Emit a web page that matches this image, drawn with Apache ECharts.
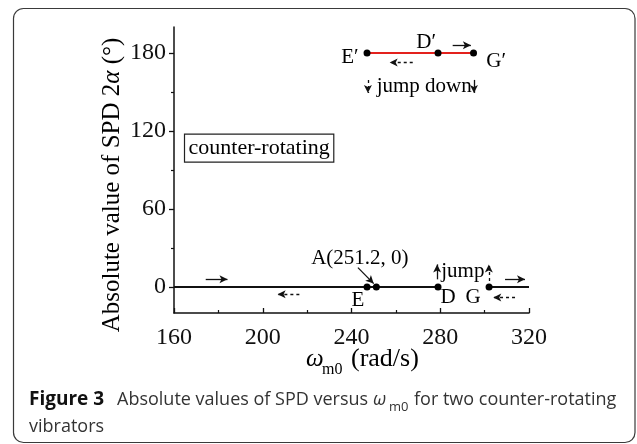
<!DOCTYPE html>
<html><head><meta charset="utf-8">
<script src="https://cdn.jsdelivr.net/npm/echarts@6/dist/echarts.min.js"></script>
<style>html,body{margin:0;padding:0;background:#fff;}#c{width:637px;height:444px;}</style>
</head><body><div id="c"></div>
<script>
// ---- data ----
const xTickLabels = [160, 200, 240, 280, 320];
const yTickLabels = [0, 60, 120, 180];
const yMinorTicks = [30, 90, 150];
const lowerLeftBranch = [[160, 0], [279, 0]];
const lowerRightBranch = [[302, 0], [320, 0]];
const upperBranch = [[247, 180], [279, 180], [295, 180]];
const lowerPoints = [[247, 0], [251.2, 0], [279, 0], [302, 0]];
const upperPoints = [[247, 180], [279, 180], [295, 180]];
const pointLabels = [
  ['E′', 239.5, 176.5], ['D′', 273.9, 188], ['G′', 305.4, 172.8],
  ['E', 243.1, -11], ['D', 283.7, -8.5], ['G', 295, -8.5],
  ['A(251.2, 0)', 244, 21.5], ['jump', 290.4, 11.8], ['jump down', 273, 153.8]
];
const boxLabel = ['counter-rotating', 198.6, 106.4];
const solidArrows = [
  [[285.6, 186], [293.8, 186]],
  [[174.3, 5.9], [184.1, 5.9]],
  [[309.2, 5.9], [318.2, 5.9]],
  [[295.2, 159.3], [295.2, 149.3]],
  [[278.6, 5.9], [278.6, 17.4]],
  [[242.9, 14.9], [250.0, 2.6]]
];
const dashedArrows = [
  [[267.6, 172.6], [257.2, 172.6]],
  [[216.5, -5.6], [206.7, -5.6]],
  [[313.7, -8.1], [303.9, -8.1]],
  [[247.4, 159.3], [247.4, 149.3]],
  [[301.9, 4.6], [301.9, 17.4]]
];

const SERIF = '"Liberation Serif","Times New Roman",serif';
const SANS = '"Open Sans","Noto Sans",sans-serif';

function arrowData(list, dashed) {
  return list.map(([a, b]) => [
    { coord: a, symbol: 'none', lineStyle: { type: dashed ? [3, 3] : 'solid', color: '#111', width: 1.3 } },
    { coord: b, symbol: 'arrow', symbolSize: [6, 8] }
  ]);
}

const chart = echarts.init(document.getElementById('c'), null, { renderer: 'canvas' });
chart.setOption({
  animation: false,
  backgroundColor: '#fff',
  grid: { left: 174, right: 108, top: 27, bottom: 131, containLabel: false },
  xAxis: {
    type: 'value', min: xTickLabels[0], max: xTickLabels[xTickLabels.length - 1], interval: 40,
    axisLine: { onZero: false, lineStyle: { color: '#111', width: 1.5 } },
    axisTick: { inside: true, length: 5, lineStyle: { color: '#111', width: 1.3 } },
    minorTick: { show: true, splitNumber: 2, length: 3, lineStyle: { color: '#111', width: 1.2 } },
    splitLine: { show: false },
    axisLabel: { color: '#111', fontFamily: SERIF, fontSize: 24, margin: 13,
      customValues: xTickLabels }
  },
  yAxis: [{
    type: 'value', min: -20, max: 200,
    axisLine: { show: true, lineStyle: { color: '#111', width: 1.5 } },
    axisTick: { show: true, inside: false, length: 5, customValues: yTickLabels, lineStyle: { color: '#111', width: 1.3 } },
    splitLine: { show: false },
    axisLabel: { color: '#111', fontFamily: SERIF, fontSize: 24, margin: 8, customValues: yTickLabels }
  }, {
    type: 'value', min: -20, max: 200, position: 'left',
    axisLine: { show: false },
    axisTick: { show: true, inside: false, length: 3, customValues: yMinorTicks, lineStyle: { color: '#111', width: 1.2 } },
    splitLine: { show: false },
    axisLabel: { show: false }
  }],
  series: [
    { type: 'line', data: lowerLeftBranch, showSymbol: false, lineStyle: { color: '#111', width: 2 }, silent: true },
    { type: 'line', data: lowerRightBranch, showSymbol: false, lineStyle: { color: '#111', width: 2 }, silent: true },
    { type: 'line', data: upperBranch, showSymbol: false, lineStyle: { color: '#e3211d', width: 2 }, silent: true },
    { type: 'scatter', data: lowerPoints.concat(upperPoints), symbolSize: 7, itemStyle: { color: '#000', opacity: 1 }, silent: true, z: 5 },
    {
      type: 'scatter', silent: true, symbolSize: 1, itemStyle: { color: 'rgba(0,0,0,0)', opacity: 1 },
      data: pointLabels.map(([n, x, y]) => ({ name: n, value: [x, y] })),
      label: { show: true, formatter: '{b}', position: [0, 0], align: 'center', verticalAlign: 'middle',
        fontFamily: SERIF, fontSize: 21, color: '#000', opacity: 1 },
      markLine: { silent: true, animation: false, label: { show: false }, symbol: ['none', 'arrow'],
        data: arrowData(solidArrows, false).concat(arrowData(dashedArrows, true)) }
    },
    {
      type: 'scatter', silent: true, symbolSize: 1, itemStyle: { color: 'rgba(0,0,0,0)', opacity: 1 },
      data: [{ name: boxLabel[0], value: [boxLabel[1], boxLabel[2]] }],
      label: { show: true, formatter: '{b}', position: [0, 0], align: 'center', verticalAlign: 'middle',
        fontFamily: SERIF, fontSize: 22, color: '#000', opacity: 1, borderColor: '#222', borderWidth: 1.2,
        padding: [3, 4, 3, 4] }
    }
  ],
  graphic: [
    { type: 'rect', shape: { x: 13.5, y: 8.5, width: 621.5, height: 434, r: 10 },
      style: { fill: 'none', stroke: '#3a3a3a', lineWidth: 1.2 }, silent: true },
    { type: 'text', x: 112, y: 185, rotation: Math.PI / 2,
      style: { text: 'Absolute value of SPD 2{i|α} (°)', fontFamily: SERIF, fontSize: 25, fill: '#000',
        align: 'center', verticalAlign: 'middle',
        rich: { i: { fontFamily: SERIF, fontStyle: 'italic', fontSize: 25, fill: '#000' } } } },
    // x-axis title pieces
    { type: 'text', x: 306, y: 359,
      style: { text: 'ω', fontFamily: SERIF, fontStyle: 'italic', fontSize: 25, fill: '#000', align: 'left', verticalAlign: 'middle' } },
    { type: 'text', x: 322, y: 370,
      style: { text: 'm0', fontFamily: SERIF, fontSize: 16, fill: '#000', align: 'left', verticalAlign: 'middle' } },
    { type: 'text', x: 351, y: 359,
      style: { text: '(rad/s)', fontFamily: SERIF, fontSize: 26, fill: '#000', align: 'left', verticalAlign: 'middle' } },
    // caption pieces
    { type: 'text', x: 29, y: 400,
      style: { text: 'Figure 3', fontFamily: SANS, fontWeight: 'bold', fontSize: 19, fill: '#111', align: 'left', verticalAlign: 'middle' } },
    { type: 'text', x: 117, y: 400,
      style: { text: 'Absolute values of SPD versus', fontFamily: SANS, fontSize: 18, fill: '#333', align: 'left', verticalAlign: 'middle' } },
    { type: 'text', x: 373, y: 400,
      style: { text: 'ω', fontFamily: SANS, fontStyle: 'italic', fontSize: 18, fill: '#333', align: 'left', verticalAlign: 'middle' } },
    { type: 'text', x: 389, y: 407,
      style: { text: 'm0', fontFamily: SANS, fontSize: 13, fill: '#333', align: 'left', verticalAlign: 'middle' } },
    { type: 'text', x: 414, y: 400,
      style: { text: 'for two counter-rotating', fontFamily: SANS, fontSize: 18, fill: '#333', align: 'left', verticalAlign: 'middle' } },
    { type: 'text', x: 29, y: 427,
      style: { text: 'vibrators', fontFamily: SANS, fontSize: 18, fill: '#333', align: 'left', verticalAlign: 'middle' } }
  ]
});
</script>
</body></html>
